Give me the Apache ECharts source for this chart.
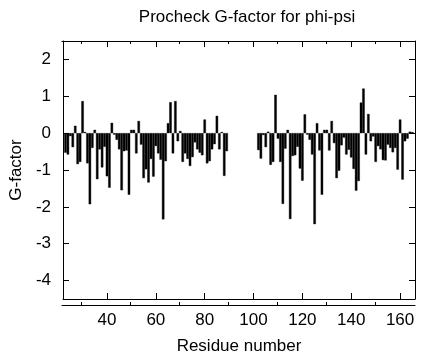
<!DOCTYPE html>
<html>
<head>
<meta charset="utf-8">
<script src="https://cdn.jsdelivr.net/npm/echarts@6/dist/echarts.min.js"></script>
<style>
html,body{margin:0;padding:0;background:#fff;}
#chart{width:423px;height:360px;}
</style>
</head>
<body>
<div id="chart"></div>
<script>
var titleText = "Procheck G-factor for phi-psi";
var xName = "Residue number";
var yName = "G-factor";

var xMajorTicks = [40, 60, 80, 100, 120, 140, 160];
var xMinorTicks = [30, 50, 70, 90, 110, 130, 150];
var yTicks = [-4, -3, -2, -1, 0, 1, 2];

var seg1Residues = [23,24,25,26,27,28,29,30,31,32,33,34,35,36,37,38,39,40,41,42,43,44,45,46,47,48,49,50,51,52,53,54,55,56,57,58,59,60,61,62,63,64,65,66,67,68,69,70,71,72,73,74,75,76,77,78,79,80,81,82,83,84,85,86,87,88,89];
var seg1Values = [-0.53,-0.58,-0.08,-0.38,0.20,-0.84,-0.78,0.87,0.03,-0.82,-1.93,-0.40,0.09,-1.25,-0.44,-0.93,-0.37,-1.17,-1.48,0.28,-0.04,-0.18,-0.44,-1.55,-0.49,-0.47,-1.67,0.09,0.09,-0.55,0.33,-0.31,-1.22,-0.98,-1.34,-0.70,-1.18,-0.35,-0.55,-0.72,-2.34,-0.76,0.27,0.84,-0.55,0.87,-0.22,0.06,-0.78,-0.55,-0.70,-0.89,-0.65,-0.25,-0.44,-0.53,-0.60,0.37,-0.82,-0.76,-0.44,-0.30,0.47,-0.44,0.03,-1.16,-0.49];

var seg2Residues = [102,103,104,105,106,107,108,109,110,111,112,113,114,115,116,117,118,119,120,121,122,123,124,125,126,127,128,129,130,131,132,133,134,135,136,137,138,139,140,141,142,143,144,145,146,147,148,149,150,151,152,153,154,155,156,157,158,159,160,161,162,163,164,165];
var seg2Values = [-0.46,-0.69,-0.05,-0.38,0.04,-0.86,-0.78,1.04,-0.15,-0.78,-1.92,-0.42,0.09,-2.33,-0.62,-0.60,-0.37,-0.96,-1.29,0.51,-0.04,-0.18,-0.58,-2.47,0.27,-0.47,-1.67,0.09,0.09,-0.47,0.33,-0.27,-1.22,-1.02,-0.33,-0.12,-0.58,-0.45,-0.66,-0.97,-1.56,-1.30,0.83,1.21,-0.58,0.52,-0.22,-0.09,-0.78,-0.35,-0.44,-0.73,-0.74,-0.31,-0.40,-0.52,-0.40,-0.99,0.37,-1.26,-0.22,-0.15,0.04,0.03];

var xMin = 22, xMax = 166.1, yMin = -4.5, yMax = 2.5;

var data = [];
seg1Residues.forEach(function (r, i) { data.push([r, seg1Values[i]]); });
seg2Residues.forEach(function (r, i) { data.push([r, seg2Values[i]]); });

var FONT = "'Liberation Sans', Helvetica, Arial, sans-serif";
var lineStyle = { color: '#000', width: 1 };
var gridBox = { left: 62, right: 8, top: 41, bottom: 55 };

function xAx(grid, pos, ticks, len, labels, name) {
  return {
    type: 'value', gridIndex: grid, position: pos, min: xMin, max: xMax,
    axisLine: { show: true, onZero: false, lineStyle: lineStyle },
    axisTick: { show: true, inside: true, length: len, customValues: ticks, lineStyle: lineStyle },
    axisLabel: labels ? { show: true, customValues: ticks, margin: 13, color: '#000', fontSize: 17, fontFamily: FONT } : { show: false },
    splitLine: { show: false },
    name: name || '', nameLocation: 'middle', nameGap: 39,
    nameTextStyle: { color: '#000', fontSize: 17, fontFamily: FONT }
  };
}
function yAx(grid, pos, ticks, labels, name, show) {
  return {
    type: 'value', gridIndex: grid, position: pos, min: yMin, max: yMax, show: show,
    axisLine: { show: true, onZero: false, lineStyle: lineStyle },
    axisTick: { show: !!ticks, inside: true, length: 6, customValues: ticks || [], lineStyle: lineStyle },
    axisLabel: labels ? { show: true, customValues: ticks, margin: 12, color: '#000', fontSize: 17, fontFamily: FONT } : { show: false },
    splitLine: { show: false },
    name: name || '', nameLocation: 'middle', nameGap: 38,
    nameTextStyle: { color: '#000', fontSize: 17, fontFamily: FONT }
  };
}

var chart = echarts.init(document.getElementById('chart'), null, { renderer: 'canvas' });
chart.setOption({
  animation: false,
  backgroundColor: '#fff',
  title: {
    text: titleText, left: 242, top: 4, textAlign: 'center',
    textStyle: { color: '#000', fontSize: 17, fontWeight: 'normal', fontFamily: FONT }
  },
  grid: [gridBox, gridBox],
  xAxis: [
    xAx(0, 'bottom', xMajorTicks, 6, true, xName),
    xAx(0, 'top', xMajorTicks, 6, false),
    xAx(1, 'bottom', xMinorTicks, 3, false),
    xAx(1, 'top', xMinorTicks, 3, false)
  ],
  yAxis: [
    yAx(0, 'left', yTicks, true, yName, true),
    yAx(0, 'right', yTicks, false, '', true),
    yAx(1, 'left', null, false, '', false),
    yAx(1, 'right', null, false, '', false)
  ],
  series: [{
    type: 'bar', xAxisIndex: 0, yAxisIndex: 0,
    data: data, barWidth: '100%',
    itemStyle: { color: '#000', borderColor: '#000', borderWidth: 0.4 }
  }]
});
</script>
</body>
</html>
